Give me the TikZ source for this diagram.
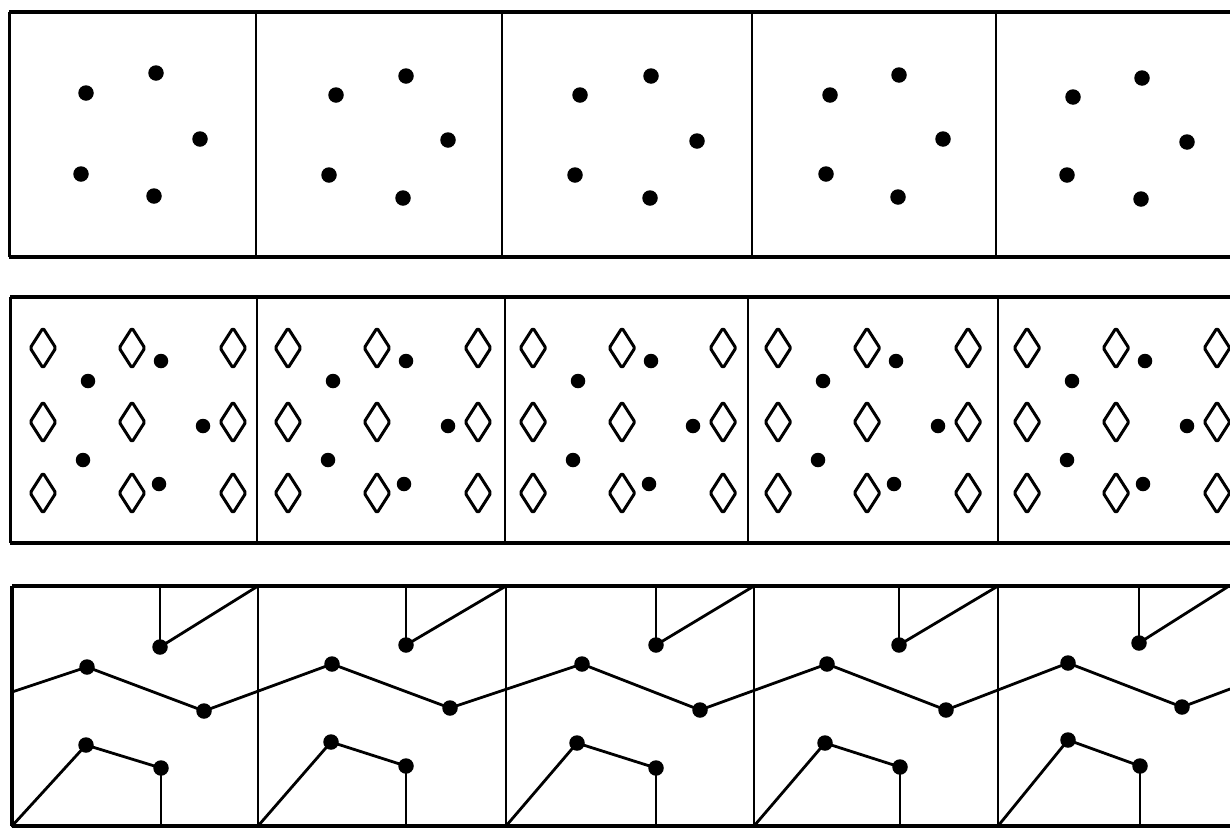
\documentclass[tikz,border=0pt]{standalone}
\begin{document}
\begin{tikzpicture}[x=1pt,y=-1pt,
  dot/.style={circle,fill=black,inner sep=0pt,minimum size=15.5pt},
  sdot/.style={circle,fill=black,inner sep=0pt,minimum size=14.5pt},
  frame/.style={line width=3.6pt},
  sideline/.style={line width=3pt},
  divider/.style={line width=2.2pt},
  link/.style={line width=2.8pt,line cap=round,line join=round},
  stem/.style={line width=2.2pt},
  diam/.style={line width=3pt,line join=round,rounded corners=1.5pt}]
\useasboundingbox[fill=white] (0,0) rectangle (1230,828);

% ---------- strip 1 ----------
\draw[frame] (1230,12) -- (9,12);
\draw[frame] (9,257) -- (1230,257);
\draw[sideline] (9,12) -- (9,257);
\foreach \x in {256,502,752,996} \draw[divider] (\x,12) -- (\x,257);
\foreach \i/\ax/\ay/\bx/\by/\cx/\cy/\dx/\dy/\ex/\ey in {
  1/86/93/156/73/200/139/81/174/154/196,
  2/336/95/406/76/448/140/329/175/403/198,
  3/580/95/651/76/697/141/575/175/650/198,
  4/830/95/899/75/943/139/826/174/898/197,
  5/1073/97/1142/78/1187/142/1067/175/1141/199}{
  \node[dot] (a\i-1) at (\ax,\ay) {};
  \node[dot] (a\i-2) at (\bx,\by) {};
  \node[dot] (a\i-3) at (\cx,\cy) {};
  \node[dot] (a\i-4) at (\dx,\dy) {};
  \node[dot] (a\i-5) at (\ex,\ey) {};
}

% ---------- strip 2 ----------
\draw[frame] (1230,297) -- (10,297);
\draw[frame] (10,543) -- (1230,543);
\draw[sideline] (10,297) -- (10,543);
\foreach \x in {257,505,748,998} \draw[divider] (\x,297) -- (\x,543);
\foreach \i/\o in {1/10,2/255,3/500,4/745,5/994}{
  \foreach \c in {33,122,223}{
    \foreach \r in {348,422,493}{
      \draw[diam,shift={(\o+\c,\r)}] (0,-20) -- (12.8,0) -- (0,20) -- (-12.8,0) -- cycle;
    }
  }
  \node[sdot] (b\i-1) at (\o+78,381) {};
  \node[sdot] (b\i-2) at (\o+151,361) {};
  \node[sdot] (b\i-3) at (\o+193,426) {};
  \node[sdot] (b\i-4) at (\o+73,460) {};
  \node[sdot] (b\i-5) at (\o+149,484) {};
}

% ---------- strip 3 ----------
\draw[frame] (1230,586) -- (12,586);
\draw[frame] (12,826) -- (1230,826);
\draw[line width=4pt] (12,586) -- (12,826);
\foreach \x in {258,506,754,998} \draw[divider] (\x,586) -- (\x,826);
\foreach \i/\xa/\xb/\tx/\ty/\px/\py/\qx/\qy/\ux/\uy/\vx/\vy in {
  1/12/258/160/647/87/667/204/711/86/745/161/768,
  2/258/506/406/645/332/664/450/708/331/742/406/766,
  3/506/754/656/645/582/664/700/710/577/743/656/768,
  4/754/998/899/645/827/664/946/710/825/743/900/767,
  5/998/1229/1139/643/1068/663/1182/707/1068/740/1140/766}{
  \coordinate (c\i-top) at (\tx,586);
  \coordinate (c\i-corner) at (\xb,586);
  \coordinate (c\i-foot) at (\xa,826);
  \coordinate (c\i-bot) at (\vx,826);
  \node[dot] (c\i-t) at (\tx,\ty) {};
  \node[dot] (c\i-z1) at (\px,\py) {};
  \node[dot] (c\i-z2) at (\qx,\qy) {};
  \node[dot] (c\i-u) at (\ux,\uy) {};
  \node[dot] (c\i-v) at (\vx,\vy) {};
  \draw[stem] (c\i-top) -- (c\i-t.center);
  \draw[link] (c\i-t.center) -- (c\i-corner);
  \draw[link] (c\i-foot) -- (c\i-u.center) -- (c\i-v.center);
  \draw[stem] (c\i-v.center) -- (c\i-bot);
}
\coordinate (zl) at (12,692);
\coordinate (zr) at (1230,689);
\draw[link] (zl) -- (c1-z1.center) -- (c1-z2.center) -- (c2-z1.center) -- (c2-z2.center)
  -- (c3-z1.center) -- (c3-z2.center) -- (c4-z1.center) -- (c4-z2.center)
  -- (c5-z1.center) -- (c5-z2.center) -- (zr);
\end{tikzpicture}
\end{document}
